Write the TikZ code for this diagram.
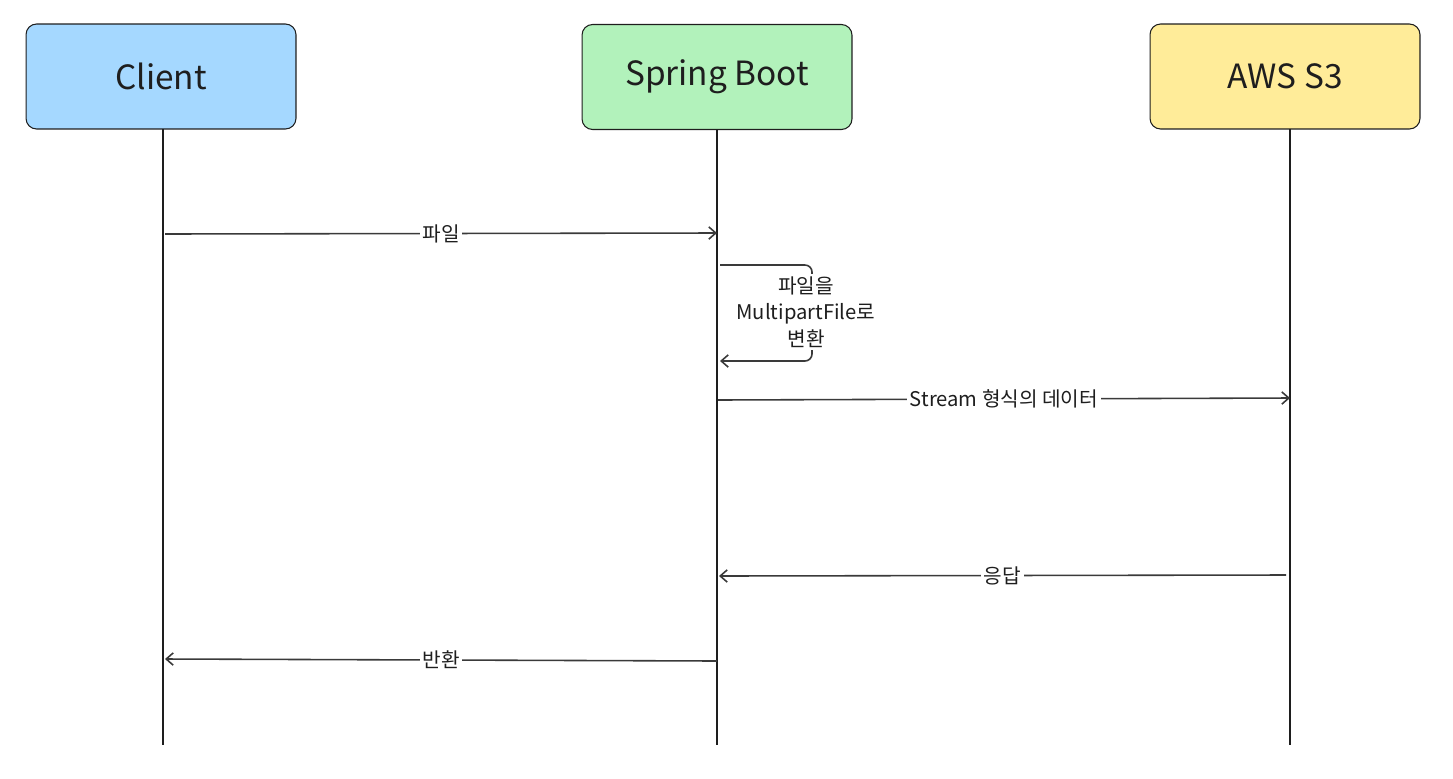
\documentclass[tikz,border=0pt]{standalone}
\usepackage{fontspec}
\setmainfont{Noto Sans CJK KR}
\usetikzlibrary{arrows.meta,positioning}
\definecolor{clientblue}{HTML}{A5D8FF}
\definecolor{springgreen}{HTML}{B2F2BB}
\definecolor{awsyellow}{HTML}{FFEC99}
\definecolor{ink}{HTML}{1E1E1E}
\definecolor{ink80}{HTML}{3A3A3A}

\begin{document}
\begin{tikzpicture}[
    x=0.02cm, y=-0.02cm,
    every node/.style={font=\fontsize{11.5}{15}\selectfont},
    actor/.style={draw=ink, line width=0.6pt, rounded corners=6pt,
        minimum width=5.4cm, minimum height=2.1cm,
        font=\fontsize{19}{24}\selectfont, text=ink},
    lifeline/.style={draw=ink, line width=1.35pt},
    msg/.style={draw=ink80, line width=0.9pt, -{Straight Barb[length=4pt,width=7pt]}},
    msglabel/.style={fill=white, inner sep=1.5pt, text=ink},
]
\useasboundingbox (0,0) rectangle (1453,778);

% Participants
\node[actor, fill=clientblue]  (client) at (161,76.5) {Client};
\node[actor, fill=springgreen] (spring) at (717,77)   {Spring Boot};
\node[actor, fill=awsyellow]   (aws)    at (1285,76.5) {AWS S3};

% Lifelines
\coordinate (clienttop) at (163,129);
\coordinate (clientend) at (163,745);
\coordinate (springend) at (717,745);
\coordinate (awstop)    at (1290,129);
\coordinate (awsend)    at (1290,745);
\draw[lifeline] (clienttop) -- (clientend);
\draw[lifeline] (spring.south) -- (springend);
\draw[lifeline] (awstop) -- (awsend);

% Upload file
\coordinate (upfrom) at (165,234);
\coordinate (upto)   at (717,233);
\draw[msg] (upfrom) -- node[msglabel] {파일} (upto);

% Conversion inside Spring Boot
\coordinate (convfrom) at (720,265);
\coordinate (convto)   at (720,361);
\draw[msg, rounded corners=4pt] (convfrom) -- (812,265) -- (812,361) -- (convto);
\node[msglabel, align=center] (convlabel) at (806,312) {파일을\\MultipartFile로\\변환};

% Stream to S3
\coordinate (putfrom) at (718,400);
\coordinate (putto)   at (1290,398);
\draw[msg] (putfrom) -- node[msglabel] {Stream 형식의 데이터} (putto);

% S3 response
\coordinate (respfrom) at (1286,575);
\coordinate (respto)   at (719,576);
\draw[msg] (respfrom) -- node[msglabel] {응답} (respto);

% Return to client
\coordinate (retfrom) at (717,661);
\coordinate (retto)   at (165,659);
\draw[msg] (retfrom) -- node[msglabel] {반환} (retto);

\end{tikzpicture}
\end{document}
